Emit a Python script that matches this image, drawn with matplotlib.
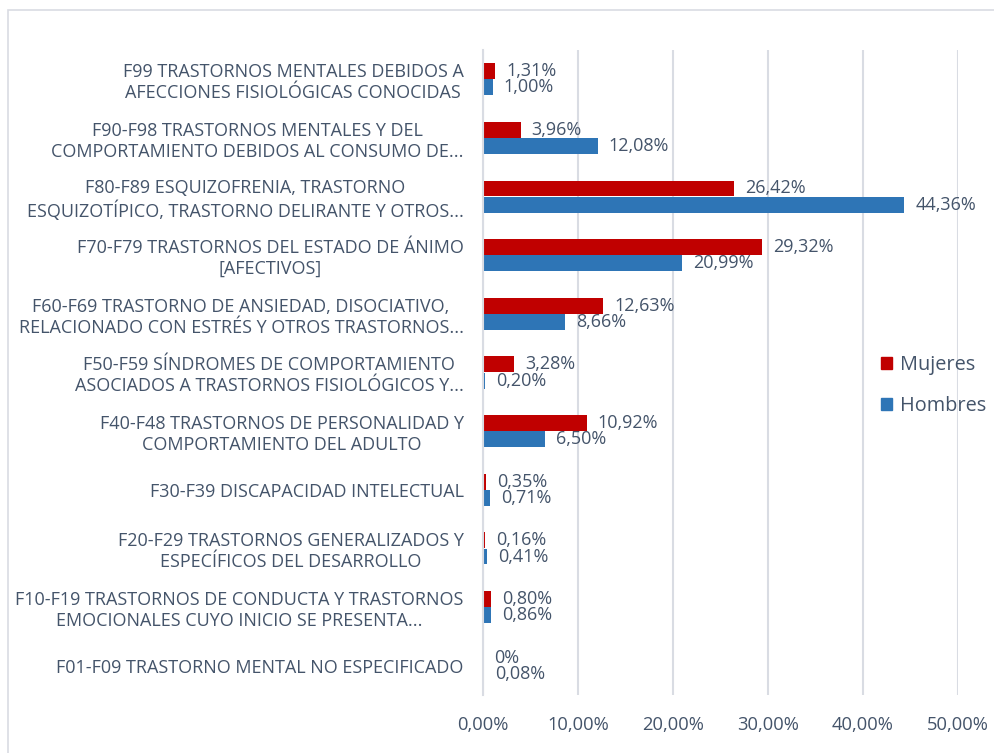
import numpy as np
import matplotlib
matplotlib.use("Agg")
import matplotlib.pyplot as plt
from matplotlib.patches import Patch, Rectangle
from matplotlib.ticker import FuncFormatter

# categories listed bottom to top
categories = [
    "F01-F09 TRASTORNO MENTAL NO ESPECIFICADO",
    "F10-F19 TRASTORNOS DE CONDUCTA Y TRASTORNOS\nEMOCIONALES CUYO INICIO SE PRESENTA...",
    "F20-F29 TRASTORNOS GENERALIZADOS Y\nESPECÍFICOS DEL DESARROLLO",
    "F30-F39 DISCAPACIDAD INTELECTUAL",
    "F40-F48 TRASTORNOS DE PERSONALIDAD Y\nCOMPORTAMIENTO DEL ADULTO",
    "F50-F59 SÍNDROMES DE COMPORTAMIENTO\nASOCIADOS A TRASTORNOS FISIOLÓGICOS Y...",
    "F60-F69 TRASTORNO DE ANSIEDAD, DISOCIATIVO,\nRELACIONADO CON ESTRÉS Y OTROS TRASTORNOS...",
    "F70-F79 TRASTORNOS DEL ESTADO DE ÁNIMO\n[AFECTIVOS]",
    "F80-F89 ESQUIZOFRENIA, TRASTORNO\nESQUIZOTÍPICO, TRASTORNO DELIRANTE Y OTROS...",
    "F90-F98 TRASTORNOS MENTALES Y DEL\nCOMPORTAMIENTO DEBIDOS AL CONSUMO DE...",
    "F99 TRASTORNOS MENTALES DEBIDOS A\nAFECCIONES FISIOLÓGICAS CONOCIDAS",
]
mujeres = [0.0, 0.80, 0.16, 0.35, 10.92, 3.28, 12.63, 29.32, 26.42, 3.96, 1.31]
hombres = [0.08, 0.86, 0.41, 0.71, 6.50, 0.20, 8.66, 20.99, 44.36, 12.08, 1.00]
xticks = [0, 10, 20, 30, 40, 50]

RED = "#C00000"
BLUE = "#2E75B6"
TXT = "#44546A"
GRID = "#D9DCE3"

plt.rcParams["font.family"] = ["Open Sans", "DejaVu Sans"]

fig = plt.figure(figsize=(9.94, 7.53), dpi=100)
# outer chart border
fig.patches.append(Rectangle((8 / 994, -0.05), 1.1, 1 - 10 / 753 + 0.05,
                             transform=fig.transFigure, fill=False,
                             edgecolor=GRID, linewidth=1.2))
ax = fig.add_axes([483 / 994, 58 / 753, 475 / 994, 645 / 753])

y = np.arange(len(categories))
h = 0.27
off = 0.138
ax.barh(y + off, mujeres, height=h, color=RED, label="Mujeres")
ax.barh(y - off, hombres, height=h, color=BLUE, label="Hombres")


def pct(v):
    if v == 0:
        return "0%"
    return f"{v:.2f}%".replace(".", ",")


for yi, m, hm in zip(y, mujeres, hombres):
    ax.annotate(pct(m), (m, yi + off), xytext=(8, 0), textcoords="offset points",
                va="center", ha="left", fontsize=13, color=TXT)
    ax.annotate(pct(hm), (hm, yi - off), xytext=(8, 0), textcoords="offset points",
                va="center", ha="left", fontsize=13, color=TXT)

ax.set_xlim(0, 50)
ax.set_ylim(-0.5, len(categories) - 0.5)
ax.set_xticks(xticks)
ax.xaxis.set_major_formatter(FuncFormatter(lambda v, p: f"{v:.2f}%".replace(".", ",")))
ax.set_yticks(y)
ax.set_yticklabels(categories, multialignment="center", linespacing=1.2)
ax.tick_params(axis="y", length=0, pad=14, labelsize=13, labelcolor=TXT)
ax.tick_params(axis="x", length=0, pad=15, labelsize=13.2, labelcolor=TXT)
ax.grid(axis="x", color=GRID, linewidth=1.5)
ax.set_axisbelow(True)
for s in ["top", "right", "bottom"]:
    ax.spines[s].set_visible(False)
ax.spines["left"].set_color(GRID)
ax.spines["left"].set_linewidth(1.5)

handles = [Patch(color=RED, label="Mujeres"), Patch(color=BLUE, label="Hombres")]
ax.legend(handles=handles, loc="center left", bbox_to_anchor=(0.80, 0.48),
          frameon=False, fontsize=14.3, labelcolor=TXT, handlelength=0.58,
          handleheight=0.58, handletextpad=0.4, labelspacing=1.05)

fig.savefig("out.png", dpi=100)
